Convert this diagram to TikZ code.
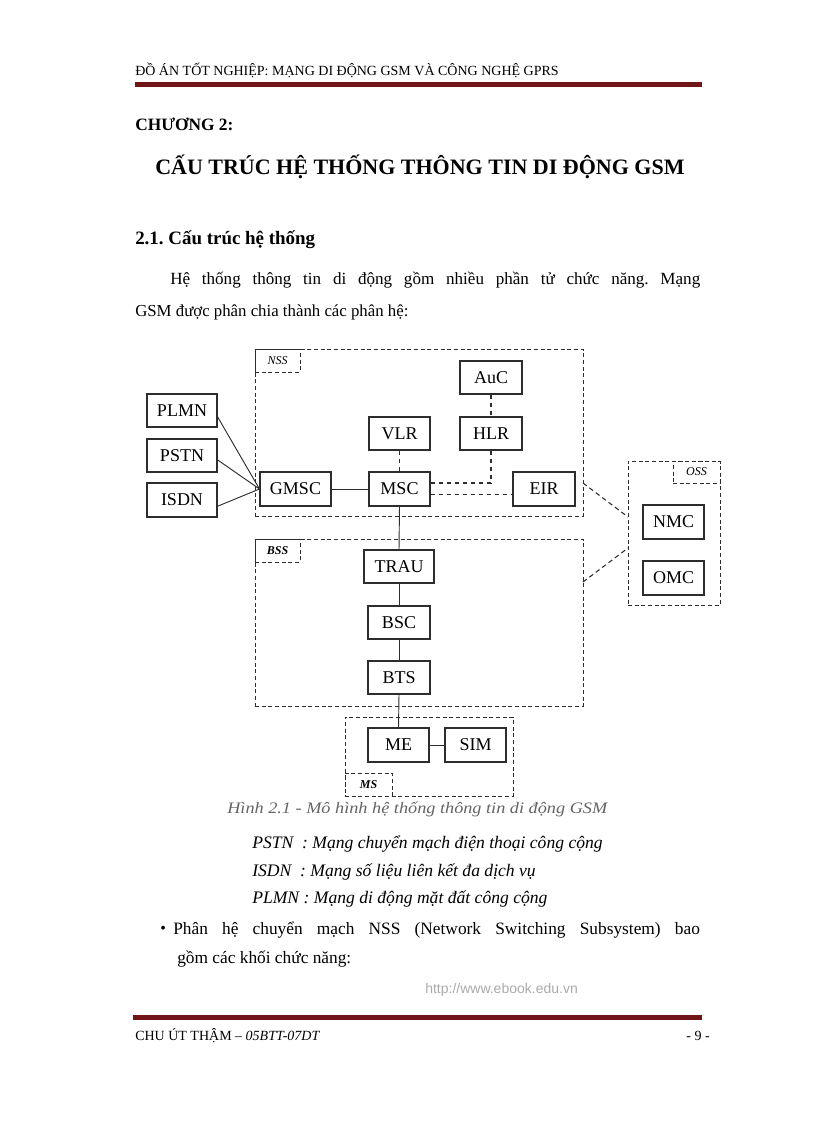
\documentclass[tikz,border=0pt]{standalone}
\usepackage{fontspec}
\setmainfont{Liberation Serif}
\usetikzlibrary{calc}
\frenchspacing
\definecolor{rule}{RGB}{112,22,24}
\definecolor{boxline}{RGB}{45,45,45}
\definecolor{capgray}{RGB}{100,100,100}
\definecolor{urlgray}{RGB}{170,170,170}
\newcommand\bx[7][blk]{\node[#1, minimum width={(#5-#3)*0.75pt}, minimum height={(#6-#4)*0.75pt}] (#2) at ({(#3+#5)/2},{(#4+#6)/2}) {#7};}
\tikzset{
  blk/.style={draw=boxline, line width=0.8pt, inner sep=0pt, font=\fontsize{13.5}{15}\selectfont},
  grp/.style={draw=boxline, line width=0.7pt, dash pattern=on 3pt off 2pt, inner sep=0pt},
  tag/.style={grp, font=\fontsize{9}{10}\selectfont\itshape},
  link/.style={draw=boxline, line width=0.7pt},
  dlink/.style={draw=boxline, line width=0.8pt, dash pattern=on 3.5pt off 2.5pt},
  txt/.style={anchor=base west, inner sep=0pt},
}
\begin{document}
\begin{tikzpicture}[x=0.75pt,y=-0.75pt]
\useasboundingbox (0,0) rectangle (816,1123);
% header
\node[txt, font=\fontsize{10.5}{12}\selectfont] (hdr) at (135,76) {ĐỒ ÁN TỐT NGHIỆP: MẠNG DI ĐỘNG GSM VÀ CÔNG NGHỆ GPRS};
\fill[rule] (135,82) rectangle (702,87);
% titles
\node[txt, font=\fontsize{13}{15}\selectfont\bfseries] (ch) at (135,131) {CHƯƠNG 2:};
\node[txt, font=\fontsize{16.5}{19}\selectfont\bfseries] (title) at (155,175) {CẤU TRÚC HỆ THỐNG THÔNG TIN DI ĐỘNG GSM};
\node[txt, font=\fontsize{14.2}{16}\selectfont\bfseries] (sec) at (135,244) {2.1. Cấu trúc hệ thống};
\node[txt, font=\fontsize{12.8}{15}\selectfont] (p1) at (170,284) {\makebox[397.5pt][s]{Hệ thống thông tin di động gồm nhiều phần tử chức năng. Mạng}};
\node[txt, font=\fontsize{12.6}{15}\selectfont] (p2) at (135,316) {GSM được phân chia thành các phân hệ:};
% containers
\bx[grp]{nss}{255}{349}{583}{516}{}
\bx[tag]{nsst}{255}{349}{300}{372}{NSS}
\bx[grp]{bss}{255}{539}{583}{706}{}
\bx[tag]{bsst}{255}{539}{300}{562}{\bfseries BSS}
\bx[grp]{ms}{345}{717}{513}{796}{}
\bx[tag]{mst}{345}{773}{392}{796}{\bfseries MS}
\bx[grp]{oss}{628}{461}{720}{605}{}
\bx[tag]{osst}{673}{461}{720}{483}{OSS}
% blocks
\bx{auc}{460}{361}{522}{394}{AuC}
\bx{vlr}{369}{417}{430}{450}{VLR}
\bx{hlr}{460}{417}{522}{450}{HLR}
\bx{gmsc}{260}{472}{331}{506}{GMSC}
\bx{msc}{369}{472}{430}{506}{MSC}
\bx{eir}{513}{472}{575}{506}{EIR}
\bx{plmn}{147}{394}{217}{427}{PLMN}
\bx{pstn}{147}{439}{217}{472}{PSTN}
\bx{isdn}{147}{483}{217}{517}{ISDN}
\bx{nmc}{643}{505}{704}{539}{NMC}
\bx{omc}{643}{561}{704}{595}{OMC}
\bx{trau}{364}{550}{434}{583}{TRAU}
\bx{bsc}{368}{606}{430}{639}{BSC}
\bx{bts}{368}{661}{430}{694}{BTS}
\bx{me}{368}{728}{429}{762}{ME}
\bx{sim}{445}{728}{506}{762}{SIM}
% connectors
\draw[link] (plmn.-10) -- (gmsc.west);
\draw[link] (pstn.-7) -- (gmsc.west);
\draw[link] (isdn.-10) -- (gmsc.west);
\draw[link] (gmsc.east) -- (msc.west);
\draw[dlink] (vlr.south) -- (msc.north);
\draw[dlink] (auc.south) -- (hlr.north);
\draw[dlink] (hlr.south) |- (msc.11);
\draw[dlink] (msc.-10) -- (msc.-10 -| eir.west);
\draw[link] (msc.south) -- (trau.north);
\draw[link] (trau.south) -- (bsc.north);
\draw[link] (bsc.south) -- (bts.north);
\draw[link] (bts.south) -- (me.north);
\draw[link] (me.east) -- (sim.west);
\coordinate (n1) at (583,483);
\coordinate (o1) at (628,517);
\coordinate (b1) at (583,582);
\coordinate (o2) at (628,548);
\draw[dlink] (n1) -- (o1);
\draw[dlink] (b1) -- (o2);
% caption and notes
\node[txt, text=capgray, font=\fontsize{12}{14}\selectfont\itshape] (cap) at (227,813) {\scalebox{1.14}[1]{Hình 2.1 - Mô hình hệ thống thông tin di động GSM}};
\node[txt, font=\fontsize{13.2}{15}\selectfont\itshape] (d1) at (252,848) {PSTN~ : Mạng chuyển mạch điện thoại công cộng};
\node[txt, font=\fontsize{13.2}{15}\selectfont\itshape] (d2) at (252,876) {ISDN~ : Mạng số liệu liên kết đa dịch vụ};
\node[txt, font=\fontsize{13.2}{15}\selectfont\itshape] (d3) at (252,903) {PLMN : Mạng di động mặt đất công cộng};
\node[txt, font=\fontsize{12}{12}\selectfont] (bul) at (160,933) {•};
\node[txt, font=\fontsize{13}{15}\selectfont] (b1t) at (173,934) {\makebox[395pt][s]{Phân hệ chuyển mạch NSS (Network Switching Subsystem) bao}};
\node[txt, font=\fontsize{13}{15}\selectfont] (b2t) at (177,963) {gồm các khối chức năng:};
\node[txt, text=urlgray, font=\fontsize{10.5}{12}\selectfont] (url) at (425,993) {\fontspec{Liberation Sans}http://www.ebook.edu.vn};
% footer
\fill[rule] (133,1015) rectangle (702,1020);
\node[txt, font=\fontsize{10.5}{12}\selectfont] (ft) at (135,1040) {CHU ÚT THẬM – \textit{05BTT-07DT}};
\node[anchor=base east, inner sep=0pt, font=\fontsize{10.5}{12}\selectfont] (pg) at (710,1040) {- 9 -};
\end{tikzpicture}
\end{document}
